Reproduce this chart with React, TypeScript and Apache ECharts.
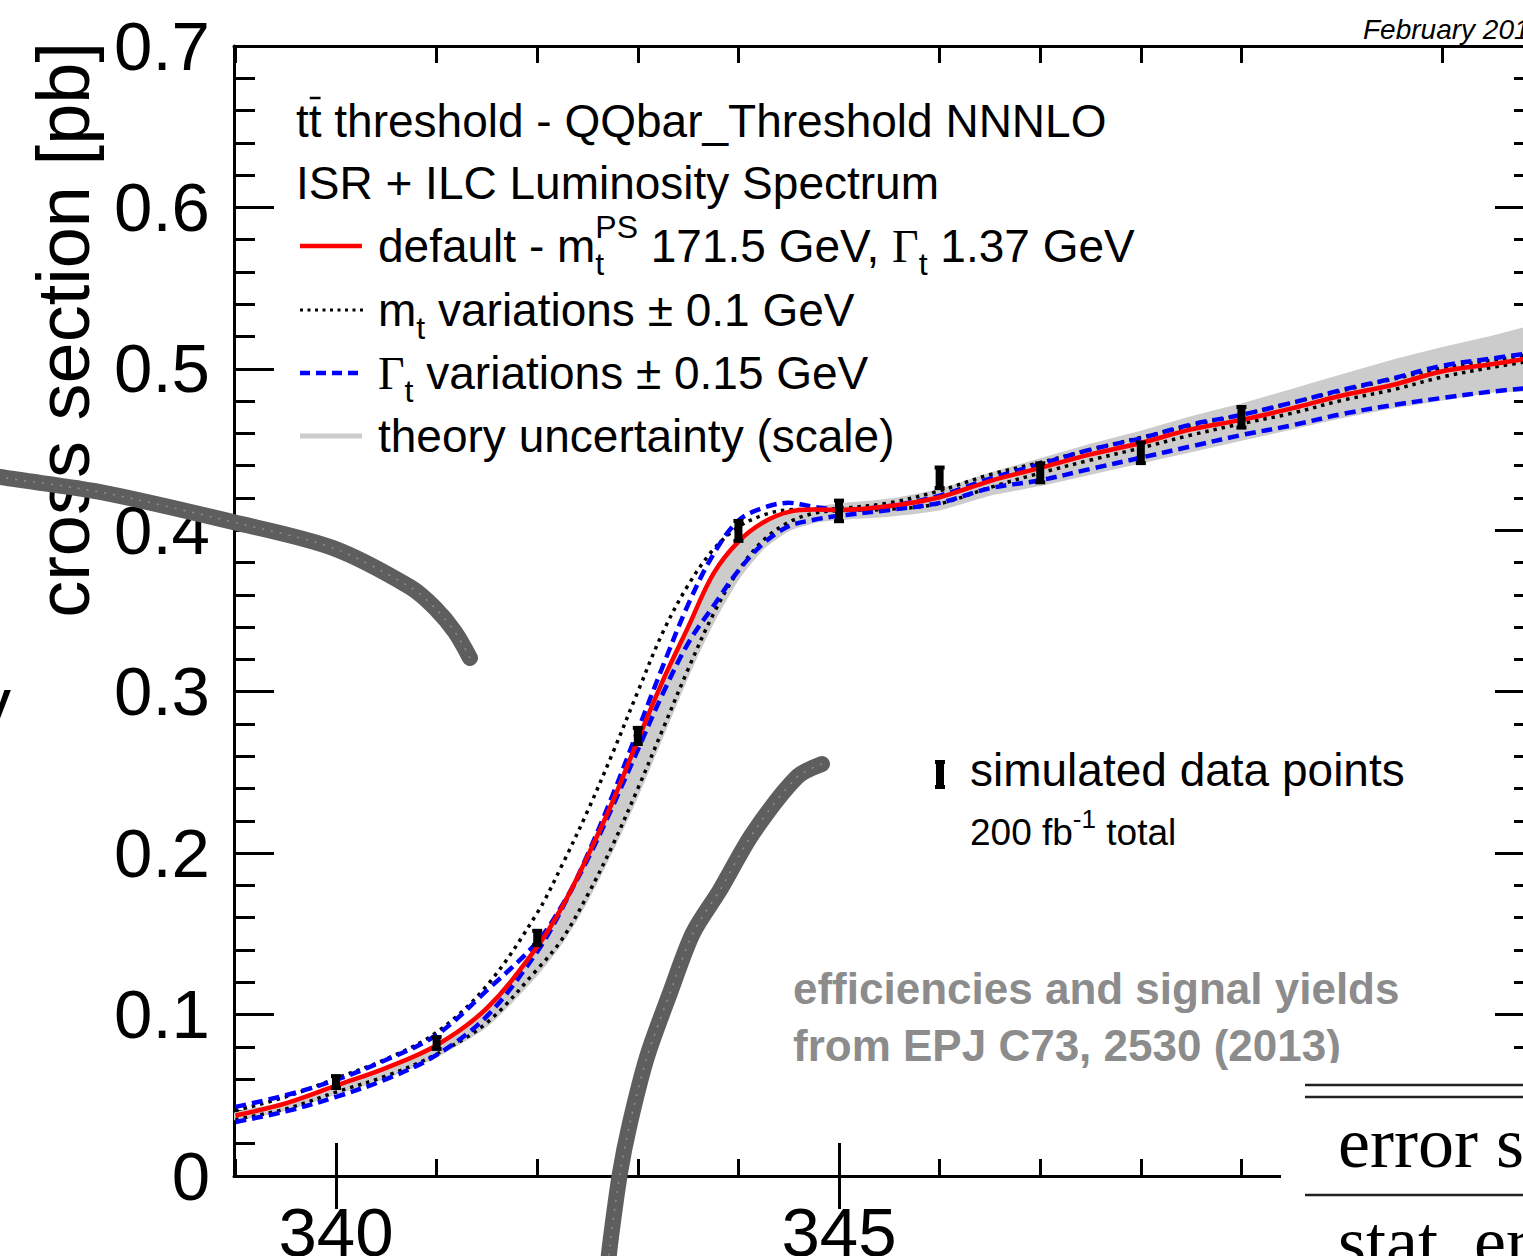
import React, { useEffect, useRef } from 'react';
import * as echarts from 'echarts';

// ---------- data ----------
const energy = [339, 339.5, 340, 340.5, 341, 341.5, 342, 342.25, 342.5, 342.75, 343, 343.25, 343.5, 343.75, 344, 344.25, 344.5, 344.75, 345, 345.5, 346, 346.5, 347, 347.5, 348, 348.5, 349, 349.5, 350, 350.5, 351, 351.5, 352];

const xsDefault = [0.0375, 0.045, 0.056, 0.067, 0.081, 0.104, 0.142, 0.167, 0.198, 0.232, 0.270, 0.307, 0.340, 0.373, 0.393, 0.405, 0.4114, 0.4128, 0.4126, 0.4150, 0.4205, 0.4305, 0.4387, 0.447, 0.4541, 0.4625, 0.4684, 0.4755, 0.4835, 0.490, 0.4985, 0.503, 0.508];
const xsMassLow = [0.0405, 0.049, 0.0605, 0.0725, 0.089, 0.118, 0.163, 0.193, 0.226, 0.262, 0.300, 0.337, 0.366, 0.388, 0.402, 0.4095, 0.4127, 0.4130, 0.4135, 0.417, 0.4245, 0.4345, 0.442, 0.450, 0.4575, 0.465, 0.4715, 0.479, 0.4865, 0.4935, 0.5005, 0.5055, 0.510];
const xsMassHigh = [0.035, 0.0415, 0.052, 0.062, 0.0755, 0.095, 0.128, 0.147, 0.174, 0.205, 0.240, 0.277, 0.314, 0.348, 0.375, 0.394, 0.405, 0.4105, 0.4122, 0.413, 0.4165, 0.4265, 0.4355, 0.4435, 0.451, 0.459, 0.466, 0.4725, 0.4805, 0.487, 0.495, 0.501, 0.506];
const xsWidthLow = [0.0335, 0.040, 0.049, 0.060, 0.075, 0.099, 0.139, 0.166, 0.199, 0.236, 0.276, 0.316, 0.354, 0.385, 0.406, 0.414, 0.417, 0.4145, 0.4128, 0.415, 0.4215, 0.432, 0.441, 0.450, 0.457, 0.4655, 0.4715, 0.479, 0.487, 0.494, 0.502, 0.5065, 0.511];
const xsWidthHigh = [0.0428, 0.050, 0.0595, 0.072, 0.0874, 0.115, 0.145, 0.168, 0.196, 0.229, 0.264, 0.299, 0.330, 0.353, 0.375, 0.392, 0.4025, 0.4065, 0.409, 0.4126, 0.417, 0.426, 0.431, 0.438, 0.445, 0.452, 0.459, 0.465, 0.472, 0.4775, 0.482, 0.486, 0.489];
const bandTop = [0.039, 0.0455, 0.056, 0.067, 0.081, 0.104, 0.142, 0.166, 0.197, 0.231, 0.268, 0.305, 0.340, 0.370, 0.392, 0.404, 0.411, 0.414, 0.416, 0.419, 0.425, 0.435, 0.444, 0.453, 0.461, 0.470, 0.478, 0.487, 0.496, 0.505, 0.513, 0.520, 0.526];
const bandBottom = [0.035, 0.041, 0.051, 0.061, 0.074, 0.093, 0.125, 0.145, 0.171, 0.202, 0.236, 0.273, 0.310, 0.343, 0.370, 0.389, 0.400, 0.405, 0.407, 0.409, 0.413, 0.422, 0.428, 0.435, 0.442, 0.449, 0.456, 0.463, 0.470, 0.476, 0.481, 0.486, 0.489];

const pointEnergy = [340, 341, 342, 343, 344, 345, 346, 347, 348, 349];
const pointXs = [0.0582, 0.0824, 0.1475, 0.2726, 0.3996, 0.412, 0.4325, 0.4356, 0.448, 0.470];
const pointErr = [0.0043, 0.0043, 0.005, 0.0056, 0.0068, 0.007, 0.007, 0.0065, 0.007, 0.007];

const xMinorTicks = [339, 341, 342, 343, 344, 346, 347, 348, 349, 351];
const xMajorTicks = [340, 345, 350];
const xLabelValues = [340, 345];
const yMajorTicks = [0, 0.1, 0.2, 0.3, 0.4, 0.5, 0.6, 0.7];
const yMinorTicks = Array.from({ length: 36 }, (_, i) => Math.round(i * 2) / 100);

const X_MIN = 338.986;
const X_MAX = 351.918;

const SANS = '"Liberation Sans", Arial, Helvetica, sans-serif';
const SERIF = '"Liberation Serif", "Times New Roman", serif';

let measureCtx: CanvasRenderingContext2D | null = null;
function textWidth(t: string, size: number, family: string, weight = 'normal', style = 'normal') {
  if (!measureCtx) measureCtx = document.createElement('canvas').getContext('2d');
  measureCtx!.font = `${style} ${weight} ${size}px ${family}`;
  return measureCtx!.measureText(t).width;
}

type Piece = { t: string; size: number; family?: string; dy?: number; stay?: boolean; weight?: string; style?: string; color?: string };

function richLine(x0: number, baseline: number, pieces: Piece[], z = 50) {
  const out: any[] = [];
  let x = x0;
  for (const p of pieces) {
    const fam = p.family ?? SANS;
    const k = fam === SERIF ? 0.3375 : 0.3465;
    const font = `${p.style ?? 'normal'} ${p.weight ?? 'normal'} ${p.size}px ${fam}`;
    out.push({
      type: 'text', x, y: baseline + (p.dy ?? 0) - k * p.size, z, silent: true,
      style: { text: p.t, font, fill: p.color ?? '#000', align: 'left', textAlign: 'left', verticalAlign: 'middle', textVerticalAlign: 'middle' },
    });
    if (!p.stay) x += textWidth(p.t, p.size, fam, p.weight, p.style);
  }
  return out;
}

function buildGraphics() {
  const els: any[] = [];
  const L = 46;
  const S = 32;
  // legend block
  els.push(...richLine(296, 137, [{ t: 'tt threshold - QQbar_Threshold NNNLO', size: L }]));
  const tW = textWidth('t', L, SANS);
  els.push({ type: 'line', z: 50, shape: { x1: 296 + tW + 1, y1: 98, x2: 296 + 2 * tW - 1, y2: 98 }, style: { stroke: '#000', lineWidth: 2.5 } });
  els.push(...richLine(296, 199, [{ t: 'ISR + ILC Luminosity Spectrum', size: L }]));
  els.push(...richLine(378, 262, [
    { t: 'default - m', size: L },
    { t: 't', size: S, dy: 13, stay: true },
    { t: 'PS', size: S, dy: -24 },
    { t: ' 171.5 GeV, ', size: L },
    { t: 'Γ', size: L, family: SERIF },
    { t: 't', size: S, dy: 13 },
    { t: ' 1.37 GeV', size: L },
  ]));
  els.push(...richLine(378, 326, [
    { t: 'm', size: L },
    { t: 't', size: S, dy: 13 },
    { t: ' variations ± 0.1 GeV', size: L },
  ]));
  els.push(...richLine(378, 389, [
    { t: 'Γ', size: L, family: SERIF },
    { t: 't', size: S, dy: 13 },
    { t: ' variations ± 0.15 GeV', size: L },
  ]));
  els.push(...richLine(378, 452, [{ t: 'theory uncertainty (scale)', size: L }]));
  // legend samples
  els.push({ type: 'line', z: 50, shape: { x1: 300, y1: 246, x2: 362, y2: 246 }, style: { stroke: '#ff0000', lineWidth: 4.5 } });
  els.push({ type: 'line', z: 50, shape: { x1: 300, y1: 310, x2: 365, y2: 310 }, style: { stroke: '#000', lineWidth: 3, lineDash: [3, 4.5] } });
  els.push({ type: 'line', z: 50, shape: { x1: 300, y1: 373, x2: 362, y2: 373 }, style: { stroke: '#0000ff', lineWidth: 4.5, lineDash: [10, 6] } });
  els.push({ type: 'line', z: 50, shape: { x1: 300, y1: 436, x2: 362, y2: 436 }, style: { stroke: '#cccccc', lineWidth: 5 } });

  // simulated data points legend
  els.push({ type: 'rect', z: 50, shape: { x: 936, y: 761, width: 8, height: 27 }, style: { fill: '#000' } });
  els.push({ type: 'rect', z: 50, shape: { x: 935, y: 760, width: 10, height: 4 }, style: { fill: '#000' } });
  els.push({ type: 'rect', z: 50, shape: { x: 935, y: 785, width: 10, height: 4 }, style: { fill: '#000' } });
  els.push(...richLine(970, 786, [{ t: 'simulated data points', size: L }]));
  els.push(...richLine(970, 845, [
    { t: '200 fb', size: 37 },
    { t: '-1', size: 26, dy: -17 },
    { t: ' total', size: 37 },
  ]));

  // efficiencies note
  els.push(...richLine(793, 1004, [{ t: 'efficiencies and signal yields', size: 44, weight: 'bold', color: '#8c8c8c' }]));
  els.push(...richLine(793, 1061, [{ t: 'from EPJ C73, 2530 (2013)', size: 44, weight: 'bold', color: '#8c8c8c' }]));

  // date
  els.push(...richLine(1363, 39, [{ t: 'February 2015', size: 28, style: 'italic' }]));

  // y axis title
  els.push({
    type: 'text', x: 63, y: 42, rotation: Math.PI / 2, z: 50, silent: true,
    style: { text: 'cross section [pb]', font: `normal normal 74px ${SANS}`, fill: '#000', align: 'right', textAlign: 'right', verticalAlign: 'middle', textVerticalAlign: 'middle' },
  });
  // cut-off glyph at the left edge
  els.push(...richLine(-24, 727, [{ t: 'y', size: 70 }]));

  // grey overlaid scribbles
  const scribble = { stroke: '#5e5e5e', lineWidth: 16, fill: null, lineCap: 'round', lineJoin: 'round' };
  const speck = { stroke: '#9a9a9a', lineWidth: 1.5, fill: null, lineDash: [2, 7], opacity: 0.8 };
  const ptsA = [[-20, 472], [0, 477], [100, 492], [233, 522], [333, 548], [410, 587], [435, 608], [455, 632], [470, 658]];
  const ptsB = [[822, 764], [797, 777], [753, 833], [720, 890], [693, 933], [670, 993], [647, 1057], [630, 1123], [620, 1173], [610, 1245], [607, 1275]];
  els.push({ type: 'polyline', z: 90, silent: true, shape: { points: ptsA, smooth: 0.3 }, style: scribble });
  els.push({ type: 'polyline', z: 90, silent: true, shape: { points: ptsB, smooth: 0.3 }, style: scribble });
  els.push({ type: 'polyline', z: 91, silent: true, shape: { points: ptsA, smooth: 0.3 }, style: speck });
  els.push({ type: 'polyline', z: 91, silent: true, shape: { points: ptsB, smooth: 0.3 }, style: speck });

  // table overlay (bottom right)
  els.push({ type: 'rect', z: 95, silent: true, shape: { x: 1281, y: 1063, width: 260, height: 200 }, style: { fill: '#fff' } });
  els.push({ type: 'line', z: 96, shape: { x1: 1305, y1: 1085, x2: 1530, y2: 1085 }, style: { stroke: '#222', lineWidth: 2.5 } });
  els.push({ type: 'line', z: 96, shape: { x1: 1305, y1: 1097, x2: 1530, y2: 1097 }, style: { stroke: '#222', lineWidth: 2.5 } });
  els.push({ type: 'line', z: 96, shape: { x1: 1305, y1: 1195, x2: 1530, y2: 1195 }, style: { stroke: '#222', lineWidth: 2.5 } });
  els.push(...richLine(1338, 1167, [{ t: 'error source', size: 72, family: SERIF }], 96));
  els.push(...richLine(1338, 1266, [{ t: 'stat. error', size: 72, family: SERIF }], 96));
  return els;
}

export default function App() {
  const ref = useRef<HTMLDivElement>(null);
  useEffect(() => {
    if (!ref.current) return;
    const chart = echarts.init(ref.current, null, { renderer: 'svg' });
    const axisLine = { show: true, onZero: false, lineStyle: { color: '#000', width: 3 } };
    const tick = { color: '#000', width: 3 };
    const xBase = { type: 'value', min: X_MIN, max: X_MAX, splitLine: { show: false } };
    const yBase = { type: 'value', min: 0, max: 0.7, splitLine: { show: false } };
    const lineData = (arr: number[]) => energy.map((e, i) => [e, arr[i]]);
    const lineSeries = (name: string, arr: number[], color: string, width: number, type: any, z: number) => ({
      name, type: 'line', data: lineData(arr), symbol: 'none', showSymbol: false, smooth: 0.35, z, silent: true,
      lineStyle: { color, width, type },
    });
    chart.setOption({
      animation: false,
      grid: { left: 234, top: 46, right: -12, bottom: 80, containLabel: false, outerBoundsMode: 'none' },
      xAxis: [
        { ...xBase, position: 'bottom', axisLine, axisTick: { show: true, inside: true, length: 17, customValues: xMinorTicks, lineStyle: tick },
          axisLabel: { show: true, customValues: xLabelValues, formatter: (v: number) => String(Math.round(v)), fontSize: 69, fontFamily: SANS, color: '#000', margin: 22 } },
        { ...xBase, position: 'bottom', axisLine: { show: false }, axisTick: { show: true, inside: true, length: 33, customValues: xMajorTicks, lineStyle: tick }, axisLabel: { show: false } },
        { ...xBase, position: 'top', axisLine, axisTick: { show: true, inside: true, length: 17, customValues: xMinorTicks, lineStyle: tick }, axisLabel: { show: false } },
        { ...xBase, position: 'top', axisLine: { show: false }, axisTick: { show: true, inside: true, length: 33, customValues: xMajorTicks, lineStyle: tick }, axisLabel: { show: false } },
      ],
      yAxis: [
        { ...yBase, position: 'left', axisLine, axisTick: { show: true, inside: true, length: 40, customValues: yMajorTicks, lineStyle: tick },
          axisLabel: { show: true, customValues: yMajorTicks, formatter: (v: number) => (v === 0 ? '0' : v.toFixed(1)), fontSize: 69, fontFamily: SANS, color: '#000', margin: 24 } },
        { ...yBase, position: 'left', axisLine: { show: false }, axisTick: { show: true, inside: true, length: 21, customValues: yMinorTicks, lineStyle: tick }, axisLabel: { show: false } },
        { ...yBase, position: 'right', axisLine, axisTick: { show: true, inside: true, length: 40, customValues: yMajorTicks, lineStyle: tick }, axisLabel: { show: false } },
        { ...yBase, position: 'right', axisLine: { show: false }, axisTick: { show: true, inside: true, length: 21, customValues: yMinorTicks, lineStyle: tick }, axisLabel: { show: false } },
      ],
      series: [
        {
          name: 'theory band', type: 'custom', z: 1, silent: true, clip: true,
          data: [[345, 0.4]],
          renderItem: (params: any, api: any) => {
            const up = energy.map((e, i) => api.coord([e, bandTop[i]]));
            const lo = energy.map((e, i) => api.coord([e, bandBottom[i]])).reverse();
            return {
              type: 'polygon', shape: { points: up.concat(lo), smooth: 0.2 },
              style: { fill: '#cccccc', stroke: '#cccccc', lineWidth: 2 },
            };
          },
        },
        lineSeries('mt low', xsMassLow, '#000', 3.5, [3.5, 5], 3),
        lineSeries('mt high', xsMassHigh, '#000', 3.5, [3.5, 5], 3),
        lineSeries('width low', xsWidthLow, '#0000ff', 4.5, [11, 6], 4),
        lineSeries('width high', xsWidthHigh, '#0000ff', 4.5, [11, 6], 4),
        lineSeries('default', xsDefault, '#ff0000', 4.5, 'solid', 5),
        {
          name: 'simulated data', type: 'custom', z: 10, silent: true,
          data: pointEnergy.map((e, i) => [e, pointXs[i], pointErr[i]]),
          renderItem: (params: any, api: any) => {
            const x = api.value(0), y = api.value(1), e = api.value(2);
            const top = api.coord([x, y + e]);
            const bot = api.coord([x, y - e]);
            return {
              type: 'group',
              children: [
                { type: 'rect', shape: { x: top[0] - 4, y: top[1], width: 8, height: bot[1] - top[1] }, style: { fill: '#000' } },
                { type: 'rect', shape: { x: top[0] - 5, y: top[1] - 1, width: 10, height: 4 }, style: { fill: '#000' } },
                { type: 'rect', shape: { x: top[0] - 5, y: bot[1] - 3, width: 10, height: 4 }, style: { fill: '#000' } },
              ],
            };
          },
        },
      ],
      graphic: { elements: buildGraphics() },
    });
    return () => chart.dispose();
  }, []);
  return <div ref={ref} style={{ position: 'absolute', left: 0, top: 0, width: 1523, height: 1256, background: '#fff' }} />;
}
